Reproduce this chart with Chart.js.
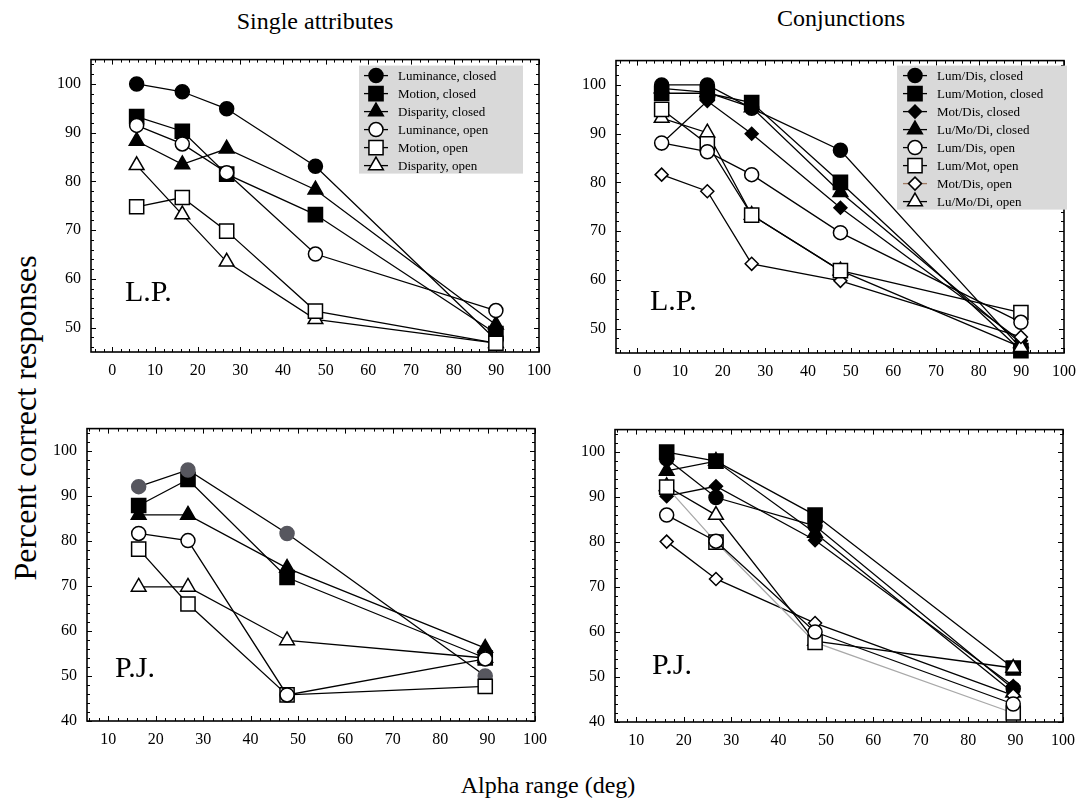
<!DOCTYPE html>
<html>
<head>
<meta charset="utf-8">
<script src="https://cdn.jsdelivr.net/npm/chart.js@4.4.0/dist/chart.umd.min.js"></script>
<style>
  body { margin: 0; background: #fff; width: 1088px; height: 799px; overflow: hidden; position: relative; font-family: 'Liberation Serif', 'Times New Roman', serif; }
  canvas.panel { position: absolute; }
  .txt { position: absolute; color: #000; white-space: nowrap; transform: translate(-50%, -50%); }
</style>
</head>
<body>
<div class="txt" style="left:315px; top:21px; font-size:24px;">Single attributes</div>
<div class="txt" style="left:841px; top:18px; font-size:24px;">Conjunctions</div>
<div class="txt" style="left:25px; top:418px; font-size:32px; transform: translate(-50%, -50%) rotate(-90deg);">Percent correct responses</div>
<div class="txt" style="left:548px; top:785px; font-size:24px;">Alpha range (deg)</div>

<canvas class="panel" id="lp-single" width="520" height="345" style="left:40px; top:40px;"></canvas>
<canvas class="panel" id="lp-conj" width="520" height="345" style="left:565px; top:41px;"></canvas>
<canvas class="panel" id="pj-single" width="520" height="345" style="left:36px; top:409px;"></canvas>
<canvas class="panel" id="pj-conj" width="520" height="345" style="left:564px; top:410px;"></canvas>

<script>
// alpha ranges (deg)
const alphaLP = [5.7, 16.4, 26.8, 47.6, 89.9];
const alphaPJ = [16.4, 26.8, 47.7, 89.5];

// tick labels
const xTicksLP = [0, 10, 20, 30, 40, 50, 60, 70, 80, 90, 100];
const xTicksPJ = [10, 20, 30, 40, 50, 60, 70, 80, 90, 100];
const yTicksLP = [50, 60, 70, 80, 90, 100];
const yTicksPJ = [40, 50, 60, 70, 80, 90, 100];

// L.P. single attributes
const lpLumClosed = [100, 98.4, 94.9, 83.1, 47.5];
const lpMotClosed = [93.3, 90.3, 81.5, 73.2, 48.8];
const lpDisClosed = [88.3, 83.5, 86.7, 78.3, 50.6];
const lpLumOpen   = [91.5, 87.7, 81.8, 65.1, 53.5];
const lpMotOpen   = [74.8, 76.7, 69.8, 53.4, 46.8];
const lpDisOpen   = [83.3, 73.2, 63.5, 51.7, 46.8];

// L.P. conjunctions
const lpLumDisClosed = [100, 100, 95.2, 86.6, 46];
const lpLumMotClosed = [98.3, 98.3, 96.4, 80, 45.5];
const lpMotDisClosed = [88, 96.7, 90, 74.8, 47.5];
const lpLuMoDiClosed = [99.3, 98.5, 95.4, 78, 47];
const lpLumDisOpen   = [88.1, 86.3, 81.6, 69.7, 51.3];
const lpLumMotOpen   = [95, 87.9, 73.3, 61.9, 53.3];
const lpMotDisOpen   = [81.6, 78.2, 63.3, 59.8, 48.3];
const lpLuMoDiOpen   = [93.2, 90.2, 73.3, 61.9, 46.2];

// P.J. single attributes
const pjLumClosed = [92.1, 95.8, 81.7, 50];
const pjMotClosed = [87.9, 93.7, 71.9, 54];
const pjDisClosed = [85.8, 85.8, 74, 56.2];
const pjLumOpen   = [81.7, 80.1, 45.8, 53.8];
const pjMotOpen   = [78.2, 66, 45.8, 47.7];
const pjDisOpen   = [69.8, 69.8, 57.9, 54];

// P.J. conjunctions
const pjLumDisClosed = [98.5, 89.9, 83.6, 47.4];
const pjLumMotClosed = [100, 98, 86, 52];
const pjMotDisClosed = [90.2, 92.4, 80.4, 48];
const pjLuMoDiClosed = [95.8, 98, 82, 46.5];
const pjLumDisOpen   = [86, 80.2, 60, 44];
const pjLumMotOpen   = [92.2, 80, 57.7, 42];
const pjMotDisOpen   = [80.1, 71.8, 62, 45.9];
const pjLuMoDiOpen   = [92.4, 86, 58, 52];

const FONT = "'Liberation Serif', 'Times New Roman', serif";
const RADIUS = { circle: 7, rect: 10, triangle: 8.5, rectRot: 6.5 };

function series(label, xs, ys, style, filled, extra) {
  return Object.assign({
    label: label,
    data: xs.map((x, i) => ({ x: x, y: ys[i] })),
    showLine: true,
    borderColor: '#000',
    borderWidth: 1.3,
    pointStyle: style,
    pointRadius: RADIUS[style],
    pointHoverRadius: RADIUS[style],
    pointBackgroundColor: filled ? '#000' : '#fff',
    pointBorderColor: '#000',
    pointBorderWidth: 1.5,
    order: filled ? 1 : 0,
    clip: false
  }, extra || {});
}

// frame with inward ticks on all four sides, panel tag, legend box
const framePlugin = {
  id: 'frame',
  beforeDatasetsDraw(chart) {
    const ctx = chart.ctx, a = chart.chartArea;
    ctx.save();
    ctx.strokeStyle = '#000';
    ctx.lineWidth = 1;
    const line = (x1, y1, x2, y2) => { ctx.beginPath(); ctx.moveTo(x1, y1); ctx.lineTo(x2, y2); ctx.stroke(); };
    const xs = chart.scales.x, ys = chart.scales.y;
    for (let v = Math.ceil(xs.min / 2) * 2; v <= xs.max + 1e-6; v += 2) {
      const len = v % 10 === 0 ? 5 : 3;
      const p = Math.round(xs.getPixelForValue(v)) + 0.5;
      line(p, a.bottom, p, a.bottom - len);
      line(p, a.top, p, a.top + len);
    }
    for (let v = Math.ceil(ys.min / 2) * 2; v <= ys.max + 1e-6; v += 2) {
      const len = v % 10 === 0 ? 5 : 3;
      const p = Math.round(ys.getPixelForValue(v)) + 0.5;
      line(a.left, p, a.left + len, p);
      line(a.right, p, a.right - len, p);
    }
    ctx.lineWidth = 1.6;
    ctx.strokeRect(a.left, a.top, a.right - a.left, a.bottom - a.top);
    ctx.restore();
  },
  afterDatasetsDraw(chart, args, opts) {
    const ctx = chart.ctx, a = chart.chartArea;
    ctx.save();
    if (opts.tag) {
      ctx.fillStyle = '#000';
      ctx.font = '30px ' + FONT;
      ctx.textBaseline = 'middle';
      ctx.fillText(opts.tag, a.left + opts.tagX, a.top + opts.tagY);
    }
    if (opts.legend) {
      const L = opts.legend;
      const bx = a.left + L.x, by = a.top + L.y;
      ctx.fillStyle = '#d9d9d9';
      ctx.fillRect(bx, by, L.w, L.h);
      ctx.font = '13px ' + FONT;
      ctx.textBaseline = 'middle';
      chart.data.datasets.forEach((ds, i) => {
        const cy = by + 10 + i * 18;
        const cx = bx + L.mx;
        ctx.strokeStyle = (L.lineColors && L.lineColors[i]) || '#000';
        ctx.lineWidth = 1.3;
        ctx.beginPath(); ctx.moveTo(cx - 12, cy); ctx.lineTo(cx + 12, cy); ctx.stroke();
        ctx.fillStyle = ds.pointBackgroundColor;
        ctx.strokeStyle = ds.pointBorderColor;
        ctx.lineWidth = 1.5;
        Chart.helpers.drawPoint(ctx, { pointStyle: ds.pointStyle, radius: ds.pointRadius, borderWidth: 1.5, rotation: 0 }, cx, cy);
        ctx.fillStyle = '#000';
        ctx.fillText(ds.label, bx + L.tx, cy + 1);
      });
    }
    ctx.restore();
  }
};

function makeChart(id, datasets, xMin, yMin, xTicks, yTicks, frameOpts) {
  return new Chart(document.getElementById(id), {
    type: 'scatter',
    data: { datasets: datasets },
    options: {
      responsive: false,
      animation: false,
      devicePixelRatio: 1,
      layout: { padding: { left: 0, top: 4, right: 14, bottom: 0 } },
      plugins: {
        legend: { display: false },
        tooltip: { enabled: false },
        frame: frameOpts
      },
      scales: {
        x: {
          type: 'linear',
          min: xMin,
          max: 100,
          grid: { display: false, drawTicks: false },
          border: { display: false },
          afterFit: (s) => { s.height = 33; },
          afterBuildTicks: (s) => { s.ticks = xTicks.map(v => ({ value: v })); },
          ticks: {
            autoSkip: false,
            maxRotation: 0,
            padding: 9,
            color: '#000',
            font: { family: FONT, size: 16 }
          }
        },
        y: {
          type: 'linear',
          min: yMin,
          max: 105,
          grid: { display: false, drawTicks: false },
          border: { display: false },
          afterFit: (s) => { s.width = 51; },
          afterBuildTicks: (s) => { s.ticks = yTicks.map(v => ({ value: v })); },
          ticks: {
            autoSkip: false,
            padding: 10,
            color: '#000',
            font: { family: FONT, size: 16 }
          }
        }
      }
    },
    plugins: [framePlugin]
  });
}

makeChart('lp-single', [
  series('Luminance, closed', alphaLP, lpLumClosed, 'circle', true),
  series('Motion, closed', alphaLP, lpMotClosed, 'rect', true),
  series('Disparity, closed', alphaLP, lpDisClosed, 'triangle', true),
  series('Luminance, open', alphaLP, lpLumOpen, 'circle', false),
  series('Motion, open', alphaLP, lpMotOpen, 'rect', false),
  series('Disparity, open', alphaLP, lpDisOpen, 'triangle', false)
], -5, 45, xTicksLP, yTicksLP, { tag: 'L.P.', tagX: 34, tagY: 234, legend: { x: 268, y: 6, w: 164, h: 108, mx: 17, tx: 39 } });

makeChart('lp-conj', [
  series('Lum/Dis, closed', alphaLP, lpLumDisClosed, 'circle', true),
  series('Lum/Motion, closed', alphaLP, lpLumMotClosed, 'rect', true),
  series('Mot/Dis, closed', alphaLP, lpMotDisClosed, 'rectRot', true),
  series('Lu/Mo/Di, closed', alphaLP, lpLuMoDiClosed, 'triangle', true),
  series('Lum/Dis, open', alphaLP, lpLumDisOpen, 'circle', false),
  series('Lum/Mot, open', alphaLP, lpLumMotOpen, 'rect', false),
  series('Mot/Dis, open', alphaLP, lpMotDisOpen, 'rectRot', false),
  series('Lu/Mo/Di, open', alphaLP, lpLuMoDiOpen, 'triangle', false)
], -5, 45, xTicksLP, yTicksLP, { tag: 'L.P.', tagX: 34, tagY: 242, legend: { x: 281, y: 5, w: 170, h: 144, mx: 18, tx: 40, lineColors: { 6: '#a07a62' } } });

makeChart('pj-single', [
  series('Luminance, closed', alphaPJ, pjLumClosed, 'circle', true, { pointBackgroundColor: '#57575f', pointBorderColor: '#57575f' }),
  series('Motion, closed', alphaPJ, pjMotClosed, 'rect', true),
  series('Disparity, closed', alphaPJ, pjDisClosed, 'triangle', true),
  series('Luminance, open', alphaPJ, pjLumOpen, 'circle', false),
  series('Motion, open', alphaPJ, pjMotOpen, 'rect', false),
  series('Disparity, open', alphaPJ, pjDisOpen, 'triangle', false)
], 5.5, 40, xTicksPJ, yTicksPJ, { tag: 'P.J.', tagX: 28, tagY: 241 });

makeChart('pj-conj', [
  series('Lum/Dis, closed', alphaPJ, pjLumDisClosed, 'circle', true),
  series('Lum/Motion, closed', alphaPJ, pjLumMotClosed, 'rect', true),
  series('Mot/Dis, closed', alphaPJ, pjMotDisClosed, 'rectRot', true),
  series('Lu/Mo/Di, closed', alphaPJ, pjLuMoDiClosed, 'triangle', true),
  series('Lum/Dis, open', alphaPJ, pjLumDisOpen, 'circle', false),
  series('Lum/Mot, open', alphaPJ, pjLumMotOpen, 'rect', false, { borderColor: '#a8a8a8' }),
  series('Mot/Dis, open', alphaPJ, pjMotDisOpen, 'rectRot', false),
  series('Lu/Mo/Di, open', alphaPJ, pjLuMoDiOpen, 'triangle', false)
], 5.5, 40, xTicksPJ, yTicksPJ, { tag: 'P.J.', tagX: 37, tagY: 237 });
</script>
</body>
</html>
